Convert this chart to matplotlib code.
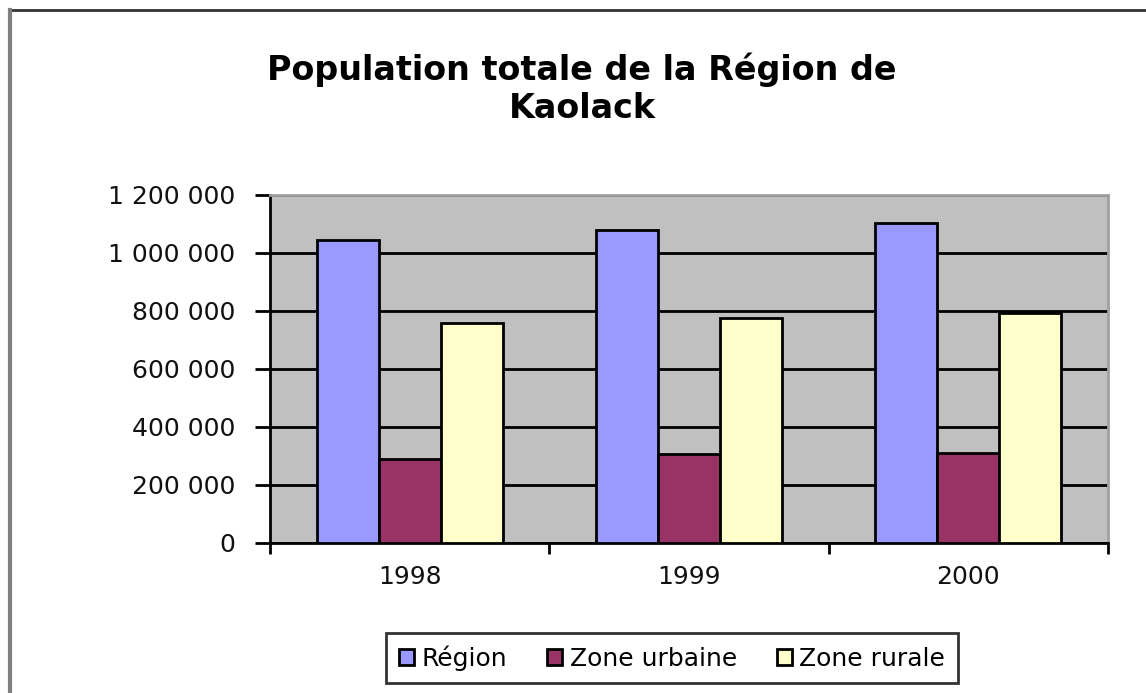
import numpy as np
import matplotlib
matplotlib.use('Agg')
import matplotlib.pyplot as plt
from matplotlib.lines import Line2D

# Données
annees = ['1998', '1999', '2000']
region = [1045000, 1079000, 1104000]
urbaine = [288000, 307000, 311000]
rurale = [758000, 775000, 792000]
series = ['Région', 'Zone urbaine', 'Zone rurale']
couleurs = ['#9999FF', '#993366', '#FFFFCC']
yticks = [0, 200000, 400000, 600000, 800000, 1000000, 1200000]
ytick_labels = ['0', '200 000', '400 000', '600 000', '800 000', '1 000 000', '1 200 000']

plt.rcParams['font.family'] = ['DejaVu Sans']

fig = plt.figure(figsize=(11.46, 6.93), dpi=100)
fig.patch.set_facecolor('white')
ax = fig.add_axes([270 / 1146, 1 - 543 / 693, 838 / 1146, 348 / 693])
ax.set_facecolor('#C0C0C0')

x = np.arange(len(annees))
w = 1 / 4.5
for i, (vals, nom, c) in enumerate(zip([region, urbaine, rurale], series, couleurs)):
    ax.bar(x + (i - 1) * w, vals, width=w, color=c, edgecolor='black',
           linewidth=2, label=nom, zorder=3)

# Axes
ax.set_xlim(-0.5, 2.5)
ax.set_ylim(0, 1200000)
ax.set_yticks(yticks)
ax.set_yticklabels(ytick_labels, fontsize=18, color='#111111')
ax.set_xticks(x)
ax.set_xticklabels(annees, fontsize=18, color='#111111')
ax.set_xticks([-0.5, 0.5, 1.5, 2.5], minor=True)
ax.tick_params(axis='x', which='major', length=0, pad=16)
ax.tick_params(axis='x', which='minor', length=8, width=2, direction='out')
ax.tick_params(axis='y', length=11, width=2, pad=14)
ax.yaxis.grid(True, color='black', linewidth=2, zorder=1)
ax.set_axisbelow(True)
for s in ['left', 'bottom']:
    ax.spines[s].set_linewidth(2)
    ax.spines[s].set_color('black')
for s in ['top', 'right']:
    ax.spines[s].set_linewidth(2)
    ax.spines[s].set_color('#A0A0A0')

# Titre
fig.text(0.508, 1 - 89 / 693, 'Population totale de la Région de\nKaolack',
         ha='center', va='center', fontsize=24, fontweight='bold', linespacing=1.2)

# Légende
leg = ax.legend(loc='center', bbox_to_anchor=(672 / 1146, 1 - 658 / 693),
                bbox_transform=fig.transFigure, ncol=3, fontsize=18,
                frameon=True, fancybox=False, edgecolor='black',
                handlelength=0.6, handleheight=0.6, handletextpad=0.3,
                columnspacing=1.6, borderpad=0.5, borderaxespad=0)
leg.get_frame().set_linewidth(2)

# Cadre du graphique
fig.add_artist(Line2D([10 / 1146, 1], [1 - 10 / 693, 1 - 10 / 693],
                      transform=fig.transFigure, color='#333333', linewidth=2))
fig.add_artist(Line2D([10 / 1146, 10 / 1146], [0, 1 - 10 / 693],
                      transform=fig.transFigure, color='#808080', linewidth=3))

fig.savefig('out.png', dpi=100)
